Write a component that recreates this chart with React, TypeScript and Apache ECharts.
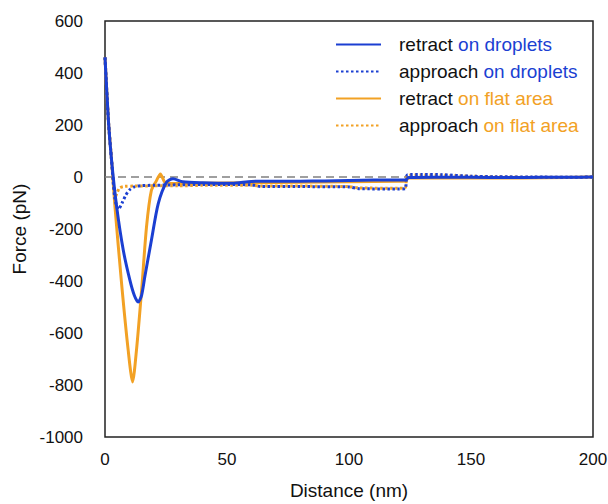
import React, { useEffect, useRef } from "react";
import * as echarts from "echarts";

const BLUE = "#1b3fd2";
const ORANGE = "#f2a124";

// retract on droplets (blue solid)
const retractDropX = [0, 1.4, 2.7, 4.8, 7.5, 10.2, 12, 13.6, 15, 16.3, 19, 21.8, 25.2, 27.9, 31.8, 40, 52, 60, 70, 80, 90, 100, 110, 120, 123, 124.5, 135, 150, 165, 180, 190, 200];
const retractDropY = [460, 216, 63, -116, -282, -397, -455, -481, -455, -385, -244, -103, -20, -7, -18, -22, -24, -17, -16, -16, -15, -13, -12, -12, -12, -2, -1, -1, -2, -1, -1, 0];

// approach on droplets (blue dotted)
const approachDropX = [0, 1.4, 2.7, 4, 5.5, 7, 8.5, 10, 12, 15, 20, 30, 40, 50, 60, 64, 80, 100, 104, 120, 123, 124, 130, 138, 150, 160, 175, 190, 200];
const approachDropY = [460, 216, 63, -80, -125, -100, -70, -50, -38, -33, -32, -30, -29, -29, -30, -37, -37, -38, -45, -46, -45, 9, 10, 9, 3, 1, 0, -1, 0];

// retract on flat area (orange solid)
const retractFlatX = [0, 1.4, 2.7, 4.1, 6.8, 9.5, 11.3, 12.9, 15, 17, 19, 21.1, 22.7, 24.5, 27, 30, 40, 60, 80, 100, 120, 123, 124.5, 140, 160, 180, 200];
const retractFlatY = [460, 216, 63, -116, -410, -666, -788, -666, -436, -193, -52, -14, 12, -20, -25, -25, -24, -22, -20, -18, -16, -15, -4, -3, -4, -3, 0];

// approach on flat area (orange dotted)
const approachFlatX = [0, 1.4, 2.7, 3.5, 4.3, 5, 6, 8, 12, 20, 30, 40, 60, 64, 80, 100, 104, 120, 123, 124, 130, 138, 150, 160, 175, 190, 200];
const approachFlatY = [460, 216, 63, -30, -75, -60, -42, -36, -35, -34, -34, -32, -32, -35, -35, -37, -42, -43, -42, 6, 8, 7, 3, 1, -1, -1, 0];

const xTicks = { min: 0, max: 200, interval: 50 };
const yTicks = { min: -1000, max: 600, interval: 200 };

const FONT = "'Liberation Sans', Arial, sans-serif";

const pairs = (xs: number[], ys: number[]) => xs.map((x, i) => [x, ys[i]]);

export default function App() {
  const ref = useRef<HTMLDivElement>(null);
  useEffect(() => {
    if (!ref.current) return;
    const chart = echarts.init(ref.current, undefined, { renderer: "svg" });
    const legendFmt = (name: string) => {
      const [k, ...rest] = name.split(" ");
      const tail = rest.join(" ");
      const key = tail.includes("droplets") ? "bl" : "or";
      return `{sp| }{k|${k}} {${key}|${tail}}`;
    };
    chart.setOption({
      animation: false,
      textStyle: { fontFamily: FONT },
      grid: {
        left: 105,
        right: 15,
        top: 21,
        bottom: 67,
        show: true,
        borderColor: "#222",
        borderWidth: 1.5,
        backgroundColor: "transparent",
        outerBoundsMode: "none",
      },
      legend: {
        orient: "vertical",
        left: 330,
        top: 30,
        itemWidth: 45,
        itemHeight: 14,
        itemGap: 8,
        selectedMode: false,
        itemStyle: { opacity: 0 },
        data: ["retract on droplets", "approach on droplets", "retract on flat area", "approach on flat area"],
        formatter: legendFmt,
        textStyle: {
          fontFamily: FONT,
          fontSize: 19,
          rich: {
            sp: { width: 13, fontSize: 19, lineHeight: 20 },
            k: { color: "#111", fontSize: 19, fontFamily: FONT, lineHeight: 20 },
            bl: { color: BLUE, fontSize: 19, fontFamily: FONT, lineHeight: 20 },
            or: { color: ORANGE, fontSize: 19, fontFamily: FONT, lineHeight: 20 },
          },
        },
      },
      xAxis: {
        type: "value",
        ...xTicks,
        name: "Distance (nm)",
        nameLocation: "middle",
        nameGap: 44,
        nameTextStyle: { fontSize: 19, color: "#111", fontFamily: FONT },
        axisLine: { show: false },
        axisTick: { show: false },
        splitLine: { show: false },
        axisLabel: { fontSize: 17, color: "#111", margin: 14, fontFamily: FONT },
      },
      yAxis: {
        type: "value",
        ...yTicks,
        name: "Force (pN)",
        nameLocation: "middle",
        nameGap: 73,
        nameTextStyle: { fontSize: 19, color: "#111", fontFamily: FONT },
        axisLine: { show: false },
        axisTick: { show: false },
        splitLine: { show: false },
        axisLabel: { fontSize: 17, color: "#111", margin: 22, fontFamily: FONT, formatter: (v: number) => String(v) },
      },
      series: [
        {
          name: "retract on flat area",
          type: "line",
          data: pairs(retractFlatX, retractFlatY),
          showSymbol: false,
          symbol: "none",
          smooth: 0.25,
          color: ORANGE,
          lineStyle: { color: ORANGE, width: 3 },
          z: 3,
          markLine: {
            silent: true,
            symbol: "none",
            label: { show: false },
            lineStyle: { color: "#808080", type: [8, 5], width: 1.5 },
            data: [{ yAxis: 0 }],
            z: 1,
          },
        },
        {
          name: "approach on flat area",
          type: "line",
          data: pairs(approachFlatX, approachFlatY),
          showSymbol: false,
          symbol: "none",
          smooth: 0.25,
          color: ORANGE,
          lineStyle: { color: ORANGE, width: 3, type: [2.5, 2.5] },
          z: 3,
        },
        {
          name: "approach on droplets",
          type: "line",
          data: pairs(approachDropX, approachDropY),
          showSymbol: false,
          symbol: "none",
          smooth: 0.25,
          color: BLUE,
          lineStyle: { color: BLUE, width: 3, type: [2.5, 2.5] },
          z: 4,
        },
        {
          name: "retract on droplets",
          type: "line",
          data: pairs(retractDropX, retractDropY),
          showSymbol: false,
          symbol: "none",
          smooth: 0.25,
          color: BLUE,
          lineStyle: { color: BLUE, width: 3 },
          z: 5,
        },
      ],
    });
    return () => chart.dispose();
  }, []);
  return (
    <div
      ref={ref}
      style={{ position: "fixed", left: 0, top: 0, width: 608, height: 504, background: "#fff" }}
    />
  );
}
